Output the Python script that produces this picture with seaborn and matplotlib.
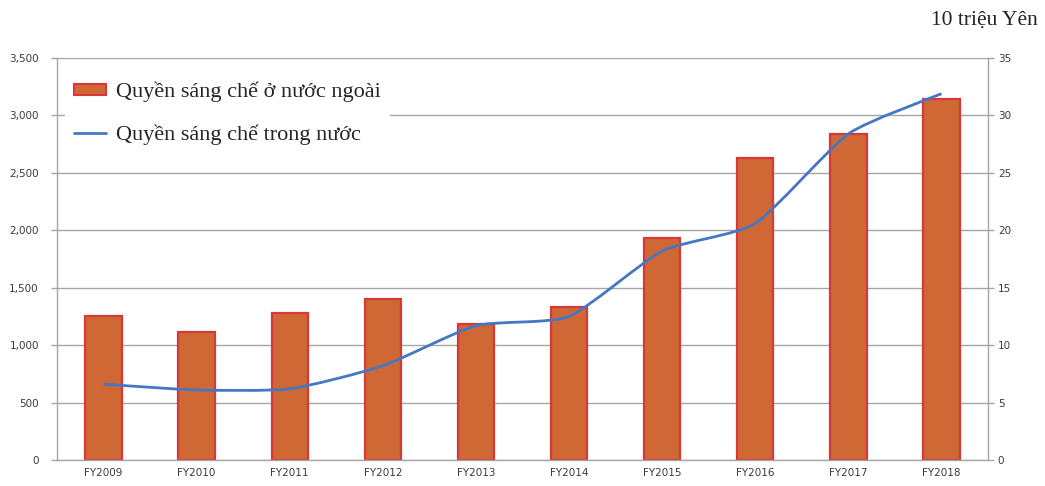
import matplotlib
matplotlib.use("Agg")
import matplotlib.pyplot as plt
import seaborn as sns
from matplotlib.patches import Patch, PathPatch
from matplotlib.lines import Line2D
from matplotlib.path import Path
from matplotlib.ticker import FuncFormatter, FixedLocator

years = ["FY2009", "FY2010", "FY2011", "FY2012", "FY2013",
         "FY2014", "FY2015", "FY2016", "FY2017", "FY2018"]
# left axis: bars
foreign = [1255, 1117, 1281, 1403, 1186, 1333, 1931, 2632, 2840, 3143]
# right axis (10 trieu Yen): line
domestic = [6.6, 6.1, 6.2, 8.2, 11.7, 12.5, 18.2, 20.6, 28.4, 31.9]

label_bar = "Quyền sáng chế ở nước ngoài"
label_line = "Quyền sáng chế trong nước"
unit_label = "10 triệu Yên"

bar_face = "#CF6834"
bar_edge = "#D8383A"
line_color = "#4677C2"
grid_color = "#A6A6A6"

sns.set_style("white")
plt.rcParams['font.family'] = ['DejaVu Sans']

fig = plt.figure(figsize=(10.45, 4.86), dpi=100)
ax = fig.add_axes([0.0545, 0.0535, 0.891, 0.827])

sns.barplot(x=years, y=foreign, ax=ax, color=bar_face, saturation=1,
            width=0.39, edgecolor=bar_edge, linewidth=1.6, zorder=2)
ax.set_ylim(0, 3500)
ax.set_xlim(-0.5, 9.5)
ax.set_yticks(range(0, 3501, 500))
ax.yaxis.set_major_formatter(FuncFormatter(lambda v, p: f"{int(v):,}"))
ax.grid(axis="y", color=grid_color, linewidth=1, zorder=0)
ax.set_axisbelow(True)
for side in ["top", "right"]:
    ax.spines[side].set_visible(False)
for side in ["left", "bottom"]:
    ax.spines[side].set_color(grid_color)
    ax.spines[side].set_linewidth(1)

ax.tick_params(axis="y", which="major", length=4, color=grid_color, width=1,
               pad=9, labelsize=7.5, labelcolor="#3a3a3a")
ax.tick_params(axis="x", which="major", length=0, pad=6, labelsize=7.5,
               labelcolor="#3a3a3a")
ax.xaxis.set_minor_locator(FixedLocator([i - 0.5 for i in range(11)]))
ax.tick_params(axis="x", which="minor", length=4, color=grid_color, width=1)
ax.set_xlabel("")

# right axis with smoothed line
ax2 = ax.twinx()
ax2.set_ylim(0, 35)
ax2.set_yticks(range(0, 36, 5))
for side in ["top", "left", "bottom"]:
    ax2.spines[side].set_visible(False)
ax2.spines["right"].set_color(grid_color)
ax2.spines["right"].set_linewidth(1)
ax2.tick_params(axis="y", length=4, color=grid_color, width=1, pad=3,
                labelsize=7.5, labelcolor="#3a3a3a")

pts = list(enumerate(domestic))
verts = [pts[0]]
codes = [Path.MOVETO]
n = len(pts)
k = 10  # softer smoothing than plain catmull-rom
for i in range(n - 1):
    p0 = pts[max(i - 1, 0)]
    p1 = pts[i]
    p2 = pts[i + 1]
    p3 = pts[min(i + 2, n - 1)]
    c1 = (p1[0] + (p2[0] - p0[0]) / k, p1[1] + (p2[1] - p0[1]) / k)
    c2 = (p2[0] - (p3[0] - p1[0]) / k, p2[1] - (p3[1] - p1[1]) / k)
    verts += [c1, c2, p2]
    codes += [Path.CURVE4] * 3
ax2.add_patch(PathPatch(Path(verts, codes), facecolor="none",
                        edgecolor=line_color, linewidth=2, zorder=3))

handles = [Patch(facecolor=bar_face, edgecolor=bar_edge, linewidth=1.5),
           Line2D([], [], color=line_color, linewidth=2)]
leg = ax2.legend(handles, [label_bar, label_line], loc="upper left",
                 bbox_to_anchor=(-0.001, 0.985), frameon=True, facecolor="white",
                 edgecolor="none", framealpha=1, handlelength=1.45,
                 handleheight=0.4, handletextpad=0.45, labelspacing=1.0,
                 borderaxespad=0.4,
                 prop={"family": "Liberation Serif", "size": 16})

fig.text(0.993, 0.959, unit_label, ha="right", va="center",
         family="Liberation Serif", fontsize=15.5, color="#222222")

fig.savefig("out.png", dpi=100)
